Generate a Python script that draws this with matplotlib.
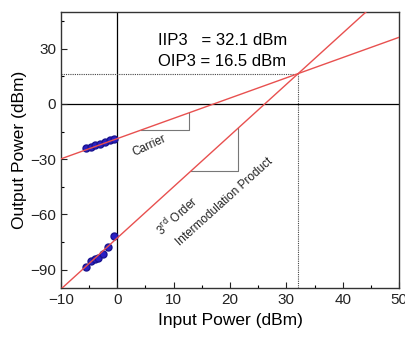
import numpy as np
import matplotlib
matplotlib.use('Agg')
import matplotlib.pyplot as plt

plt.rcParams['font.family'] = ['Liberation Sans', 'DejaVu Sans']

# 読み取った値
iip3 = 32.1
oip3 = 16.5
carrier_slope = 1.1
im3_slope = 2.78

carrier_x = [-5.6, -4.7, -3.9, -3.0, -2.1, -1.3, -0.6]
carrier_y = [-24.1, -23.4, -22.5, -21.6, -20.6, -19.8, -19.0]
im3_x = [-5.6, -4.7, -4.0, -3.5, -2.6, -1.6, -0.5]
im3_y = [-88.4, -85.1, -84.4, -83.5, -81.7, -77.6, -71.9]

x_ticks = [-10, 0, 10, 20, 30, 40, 50]
y_ticks = [-90, -60, -30, 0, 30]

red = '#e8504f'
blue = '#2a1fc4'

fig = plt.figure(figsize=(4.06, 3.39), dpi=100)
ax = fig.add_axes([0.150, 0.150, 0.833, 0.815])

xs = np.array([-10, 50])
ax.plot(xs, oip3 + (xs - iip3) * carrier_slope, color=red, lw=1.0, zorder=3)
ax.plot(xs, oip3 + (xs - iip3) * im3_slope, color=red, lw=1.0, zorder=3)

ax.plot(carrier_x, carrier_y, 'o', ms=5, color=blue, mec='#1a1490', zorder=2)
ax.plot(im3_x, im3_y, 'o', ms=5, color=blue, mec='#1a1490', zorder=2)

# 軸線
ax.axhline(0, color='black', lw=0.9, zorder=1)
ax.axvline(0, color='black', lw=0.9, zorder=1)

# 交点の点線
ax.plot([-10, iip3], [oip3, oip3], color='#444444', lw=0.8, ls=(0, (1, 1)))
ax.plot([iip3, iip3], [-100, oip3], color='#444444', lw=0.8, ls=(0, (1, 1)))

# 傾きの三角
c1, c2 = 4.2, 12.8
ax.plot([c1, c2, c2], [oip3 + (c1 - iip3) * carrier_slope] * 2 + [oip3 + (c2 - iip3) * carrier_slope],
        color='#777777', lw=0.8)
m1, m2 = 13.1, 21.4
ax.plot([m1, m2, m2], [oip3 + (m1 - iip3) * im3_slope] * 2 + [oip3 + (m2 - iip3) * im3_slope],
        color='#777777', lw=0.8)

ax.text(7.3, 34.5, 'IIP3   = 32.1 dBm', fontsize=12, va='center', ha='left')
ax.text(7.3, 23.2, 'OIP3 = 16.5 dBm', fontsize=12, va='center', ha='left')

ax.text(5.6, -22.5, 'Carrier', fontsize=8.5, rotation=25, ha='center', va='center', color='#222222')
ax.text(10.6, -60.5, '3$^{\\rm rd}$ Order', fontsize=8.5, rotation=42, ha='center', va='center',
        color='#222222')
ax.text(19.0, -53.3, 'Intermodulation Product', fontsize=8.5, rotation=42, ha='center', va='center',
        color='#222222')

ax.set_xlim(-10, 50)
ax.set_ylim(-100, 50)
ax.set_xticks(x_ticks)
ax.set_yticks(y_ticks)
ax.set_xticks(np.arange(-5, 50, 10), minor=True)
ax.set_yticks(np.arange(-75, 50, 30), minor=True)
ax.tick_params(direction='in', labelsize=11, length=4, width=0.8, colors='#222222')
ax.tick_params(which='minor', direction='in', length=2.5, width=0.8)
for s in ax.spines.values():
    s.set_linewidth(1.0)
    s.set_color('#333333')

ax.set_xlabel('Input Power (dBm)', fontsize=12.5, labelpad=4)
ax.set_ylabel('Output Power (dBm)', fontsize=12.5, labelpad=2)

fig.savefig('out.png', dpi=100)
